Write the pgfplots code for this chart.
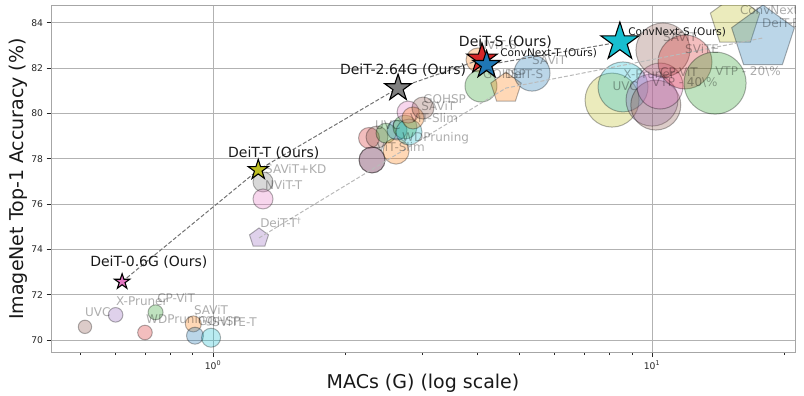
\documentclass[border=0pt]{standalone}
\usepackage{fontspec}
\setmainfont{DejaVu Sans}
\usepackage{pgfplots}
\pgfplotsset{compat=1.18}
\usetikzlibrary{plotmarks}

\definecolor{tblue}{HTML}{1F77B4}
\definecolor{torange}{HTML}{FF7F0E}
\definecolor{tgreen}{HTML}{2CA02C}
\definecolor{tred}{HTML}{D62728}
\definecolor{tpurple}{HTML}{9467BD}
\definecolor{tbrown}{HTML}{8C564B}
\definecolor{tpink}{HTML}{E377C2}
\definecolor{tgray}{HTML}{7F7F7F}
\definecolor{tolive}{HTML}{BCBD22}
\definecolor{tcyan}{HTML}{17BECF}

\pgfdeclareplotmark{fstar}{%
 \pgfpathmoveto{\pgfpointpolar{90}{\pgfplotmarksize}}%
 \pgfpathlineto{\pgfpointpolar{126}{0.382\pgfplotmarksize}}%
 \pgfpathlineto{\pgfpointpolar{162}{\pgfplotmarksize}}%
 \pgfpathlineto{\pgfpointpolar{198}{0.382\pgfplotmarksize}}%
 \pgfpathlineto{\pgfpointpolar{234}{\pgfplotmarksize}}%
 \pgfpathlineto{\pgfpointpolar{270}{0.382\pgfplotmarksize}}%
 \pgfpathlineto{\pgfpointpolar{306}{\pgfplotmarksize}}%
 \pgfpathlineto{\pgfpointpolar{342}{0.382\pgfplotmarksize}}%
 \pgfpathlineto{\pgfpointpolar{18}{\pgfplotmarksize}}%
 \pgfpathlineto{\pgfpointpolar{54}{0.382\pgfplotmarksize}}%
 \pgfpathclose\pgfusepathqfillstroke}
\pgfdeclareplotmark{fpent}{%
 \pgfpathmoveto{\pgfpointpolar{90}{\pgfplotmarksize}}%
 \pgfpathlineto{\pgfpointpolar{162}{\pgfplotmarksize}}%
 \pgfpathlineto{\pgfpointpolar{234}{\pgfplotmarksize}}%
 \pgfpathlineto{\pgfpointpolar{306}{\pgfplotmarksize}}%
 \pgfpathlineto{\pgfpointpolar{18}{\pgfplotmarksize}}%
 \pgfpathclose\pgfusepathqfillstroke}

\pgfplotsset{
 bub/.style 2 args={only marks, mark=*, mark size=#1, mark options={draw=black, draw opacity=0.3, fill=#2, fill opacity=0.3, line width=1pt, solid}},
 pen/.style 2 args={only marks, mark=fpent, mark size=#1, mark options={draw=black, draw opacity=0.3, fill=#2, fill opacity=0.3, line width=1pt, solid}},
 ours/.style 2 args={only marks, mark=fstar, mark size=#1, mark options={draw=black, fill=#2, line width=1.1pt, solid}},
 dline/.style={black!55, line width=1pt, dash pattern=on 4pt off 2pt, mark=none},
 lline/.style={black!27, line width=1pt, dash pattern=on 4pt off 2pt, mark=none},
}
\tikzset{
 glab/.style={font=\fontsize{12}{14}\selectfont, text=black, text opacity=0.32, inner sep=0pt, anchor=base west},
 olab/.style={font=\fontsize{14}{16}\selectfont, text=black!90, inner sep=0pt, anchor=base west},
 clab/.style={font=\fontsize{10.5}{12}\selectfont, text=black!90, inner sep=0pt, anchor=base west},
}

\begin{document}
\begin{tikzpicture}
\begin{axis}[name=ax, at={(0,0)}, anchor=south west, scale only axis,
 width=744pt, height=347.4pt,
 xmode=log, xmin=0.4276, xmax=21.17, ymin=69.45, ymax=84.77,
 xtick={1,10}, xticklabels={10\textsuperscript{0},10\textsuperscript{1}},
 minor xtick={0.5,0.6,0.7,0.8,0.9,2,3,4,5,6,7,8,9,20},
 ytick={70,72,...,84},
 grid=major, major grid style={black!30, line width=0.8pt},
 tick align=outside, major tick length=4.5pt, minor tick length=2.5pt,
 xtick pos=bottom, ytick pos=left,
 axis line style={black!35, line width=0.8pt},
 tick style={black!85, line width=0.8pt},
 /pgf/number format/assume math mode=true,
 ticklabel style={font=\fontsize{9.2}{11}\selectfont, text=black!85},
 xlabel={MACs (G) (log scale)}, ylabel={ImageNet Top-1 Accuracy (\%)},
 label style={font=\fontsize{19}{22}\selectfont, text=black!90},
 xlabel style={at={(axis description cs:0.5,-0.1036)}, anchor=base},
 ylabel style={at={(axis description cs:-0.0363,0.5)}, anchor=base},
 clip marker paths=true,
]
% baseline methods, bottom left
\addplot[bub={6.7}{tbrown}] coordinates {(0.511,70.59)};
\addplot[bub={7.3}{tpurple}] coordinates {(0.600,71.12)};
\addplot[bub={7.5}{tgreen}] coordinates {(0.740,71.23)};
\addplot[bub={7.3}{tred}] coordinates {(0.700,70.34)};
\addplot[bub={8}{torange}] coordinates {(0.902,70.72)};
\addplot[bub={8.5}{tblue}] coordinates {(0.910,70.20)};
\addplot[bub={9.5}{tcyan}] coordinates {(0.990,70.11)};
% tiny models
\addplot[bub={10}{tgray}] coordinates {(1.30,76.98)};
\addplot[bub={10}{tpink}] coordinates {(1.30,76.23)};
\addplot[pen={10}{tpurple}] coordinates {(1.273,74.51)};
% middle cluster
\addplot[bub={10.5}{tred}] coordinates {(2.267,78.92)};
\addplot[bub={11}{tbrown}] coordinates {(2.364,78.96)};
\addplot[bub={10}{tgreen}] coordinates {(2.478,79.13)};
\addplot[bub={13}{tpurple}] coordinates {(2.303,77.95)};
\addplot[bub={13}{tbrown}] coordinates {(2.303,77.95)};
\addplot[bub={13}{torange}] coordinates {(2.612,78.34)};
\addplot[bub={10}{tblue}] coordinates {(2.625,79.27)};
\addplot[bub={12}{tgreen}] coordinates {(2.737,79.40)};
\addplot[bub={13}{tcyan}] coordinates {(2.796,79.18)};
\addplot[bub={11}{tpink}] coordinates {(2.782,80.06)};
\addplot[bub={11}{torange}] coordinates {(2.855,79.80)};
\addplot[bub={11}{tbrown}] coordinates {(3.008,80.24)};
% small models
\addplot[bub={12}{torange}] coordinates {(4.015,82.36)};
\addplot[bub={16}{tgreen}] coordinates {(4.078,81.21)};
\addplot[pen={16}{torange}] coordinates {(4.65,81.12)};
\addplot[bub={18}{tblue}] coordinates {(5.33,81.78)};
% base models
\addplot[bub={27}{tolive}] coordinates {(8.11,80.59)};
\addplot[bub={25}{tcyan}] coordinates {(8.59,81.17)};
\addplot[bub={26}{tpurple}] coordinates {(10.0,80.59)};
\addplot[bub={25}{tbrown}] coordinates {(10.2,80.37)};
\addplot[bub={23}{tpink}] coordinates {(10.43,81.21)};
\addplot[bub={27}{tbrown}] coordinates {(10.59,82.80)};
\addplot[bub={27}{tred}] coordinates {(11.89,82.27)};
\addplot[bub={31}{tgreen}] coordinates {(13.92,81.34)};
\addplot[pen={26}{tolive}] coordinates {(15.46,84.07)};
\addplot[pen={33}{tblue}] coordinates {(17.9,83.33)};
% trend lines
\addplot[lline] coordinates {(1.273,74.51) (4.65,81.12) (17.9,83.33)};
\addplot[dline] coordinates {(0.621,72.58) (1.268,77.51) (2.64,81.12) (4.10,82.40)};
\addplot[dline] coordinates {(4.20,82.14) (8.45,83.15)};
% ours
\addplot[ours={8}{tpink}] coordinates {(0.621,72.58)};
\addplot[ours={10.5}{tolive}] coordinates {(1.268,77.51)};
\addplot[ours={14}{tgray}] coordinates {(2.64,81.12)};
\addplot[ours={16}{tred}] coordinates {(4.10,82.40)};
\addplot[ours={14.5}{tblue}] coordinates {(4.20,82.14)};
\addplot[ours={20}{tcyan}] coordinates {(8.45,83.15)};
% labels
\node[glab] at (axis cs:0.511,71.03) {UVC};
\node[glab] at (axis cs:0.601,71.53) {X-Pruner};
\node[glab] at (axis cs:0.746,71.66) {CP-ViT};
\node[glab] at (axis cs:0.704,70.72) {WDPruning};
\node[glab] at (axis cs:0.905,71.12) {SAViT};
\node[glab] at (axis cs:0.924,70.67) {GOHSP};
\node[glab] at (axis cs:0.995,70.59) {SViTE-T};
\node[glab] at (axis cs:1.314,77.37) {SAViT+KD};
\node[glab] at (axis cs:1.314,76.63) {NViT-T};
\node[glab] at (axis cs:1.280,74.95) {DeiT-T\textsuperscript{†}};
\node[glab] at (axis cs:2.338,79.31) {UVC};
\node[glab] at (axis cs:2.361,78.34) {ViT-Slim};
\node[glab] at (axis cs:2.695,78.78) {WDPruning};
\node[glab] at (axis cs:2.810,79.62) {ViT-Slim};
\node[glab] at (axis cs:3.011,80.42) {GOHSP};
\node[glab] at (axis cs:2.979,80.15) {SAViT};
\node[glab] at (axis cs:4.015,82.80) {NViT-S};
\node[glab] at (axis cs:4.12,81.56) {GOHSP};
\node[glab] at (axis cs:4.62,81.56) {DeiT-S};
\node[glab] at (axis cs:5.33,82.14) {SAViT};
\node[glab] at (axis cs:8.12,81.0) {UVC};
\node[glab] at (axis cs:8.60,81.56) {X-Pruner};
\node[glab] at (axis cs:10.43,81.61) {CP-ViT};
\node[glab] at (axis cs:10.0,81.17) {VTP - 40\textbackslash\%};
\node[glab] at (axis cs:10.59,83.19) {SAViT};
\node[glab] at (axis cs:11.89,82.66) {SViTE};
\node[glab] at (axis cs:13.92,81.69) {VTP - 20\textbackslash\%};
\node[glab] at (axis cs:15.85,84.38) {ConvNext-B};
\node[glab] at (axis cs:17.8,83.81) {DeiT-B};
\node[olab] at (axis cs:0.5248,73.23) {DeiT-0.6G (Ours)};
\node[olab] at (axis cs:1.082,78.08) {DeiT-T (Ours)};
\node[olab] at (axis cs:1.946,81.74) {DeiT-2.64G (Ours)};
\node[olab] at (axis cs:3.63,82.97) {DeiT-S (Ours)};
\node[clab] at (axis cs:4.51,82.49) {ConvNext-T (Ours)};
\node[clab] at (axis cs:8.82,83.46) {ConvNext-S (Ours)};
\end{axis}
\pgfresetboundingbox
\path[use as bounding box] ([shift={(-51pt,-43.3pt)}]ax.south west) rectangle ([shift={(9pt,5.3pt)}]ax.north east);
\end{tikzpicture}
\end{document}
